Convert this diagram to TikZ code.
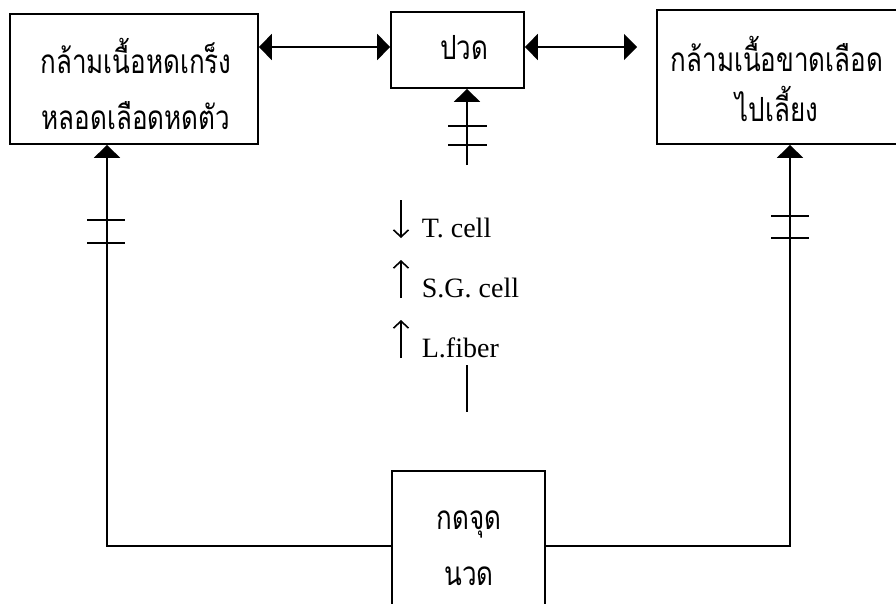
\documentclass[tikz,border=0pt]{standalone}
\usepackage{fontspec}
\setmainfont{Liberation Serif}
\newfontfamily\thaifont[Script=Thai]{Loma}
\usetikzlibrary{arrows.meta}
\newcommand{\tall}[1]{\scalebox{1}[1.28]{#1}}
\begin{document}
\begin{tikzpicture}[x=1pt,y=-1pt,
  line width=1.7pt,
  box/.style={draw,rectangle,inner sep=0pt,line width=1.7pt},
  thai/.style={font=\thaifont\fontsize{26}{26}\selectfont,align=center,inner sep=0pt},
  lbl/.style={font=\fontsize{28}{28}\selectfont,anchor=base west,inner sep=0pt},
  tri/.style={-{Triangle[length=13pt,width=26pt]}},
  tritwo/.style={{Triangle[length=13pt,width=26pt]}-{Triangle[length=13pt,width=26pt]}},
  thin/.style={line width=1.6pt,-{Straight Barb[length=7pt,width=15pt]}},
  tick/.style={line width=1.7pt}]
\useasboundingbox (0,0) rectangle (896,603);
% boxes
\node[box,minimum width=248pt,minimum height=130pt] (lbox) at (134,79) {};
\node[thai] (ltxt) at (136,84) {\tall{กล้ามเนื้อหดเกร็ง}\\[26pt]\tall{หลอดเลือดหดตัว}};
\node[box,minimum width=133pt,minimum height=76pt] (pbox) at (457.5,50) {};
\node[thai] (ptxt) at (464,48) {\tall{ปวด}};
\node[box,minimum width=253pt,minimum height=134pt] (rbox) at (783.5,77) {};
\node[thai] (rtxt) at (777,79) {\tall{กล้ามเนื้อขาดเลือด}\\[14pt]\tall{ไปเลี้ยง}};
\node[box,minimum width=153pt,minimum height=150pt] (kbox) at (468.5,546) {};
\node[thai] (ktxt) at (469,548) {\tall{กดจุด}\\[28pt]\tall{นวด}};
% horizontal arrows
\draw[tritwo] (lbox.east |- 0,47) -- (pbox.west |- 0,47);
\coordinate (rtip) at (637,47);
\draw[tritwo] (pbox.east |- 0,47) -- (rtip);
% vertical arrow to pain
\coordinate (pfoot) at (467,165);
\draw[tri] (pfoot) -- (pfoot |- pbox.south);
\draw[tick] (448,126) -- (487,126);
\draw[tick] (448,145) -- (487,145);
% left feedback
\coordinate (lcorner) at (107,546);
\draw[tri] (kbox.west) -- (lcorner) -- (lcorner |- lbox.south);
\draw[tick] (87,220) -- (125,220);
\draw[tick] (87,243) -- (125,243);
% right feedback
\coordinate (rcorner) at (790,546);
\draw[tri] (kbox.east) -- (rcorner) -- (rcorner |- rbox.south);
\draw[tick] (771,216) -- (809,216);
\draw[tick] (771,238) -- (809,238);
% labels
\coordinate (a1s) at (401,200);
\coordinate (a1e) at (401,238);
\draw[thin] (a1s) -- (a1e);
\node[lbl] (t1) at (421,237) {T. cell};
\coordinate (a2s) at (401,298);
\coordinate (a2e) at (401,260);
\draw[thin] (a2s) -- (a2e);
\node[lbl] (t2) at (421,297) {S.G. cell};
\coordinate (a3s) at (401,358);
\coordinate (a3e) at (401,320);
\draw[thin] (a3s) -- (a3e);
\node[lbl] (t3) at (421,357) {L.fiber};
\coordinate (b1) at (467,365);
\coordinate (b2) at (467,412);
\draw[line width=1.5pt] (b1) -- (b2);
\end{tikzpicture}
\end{document}
